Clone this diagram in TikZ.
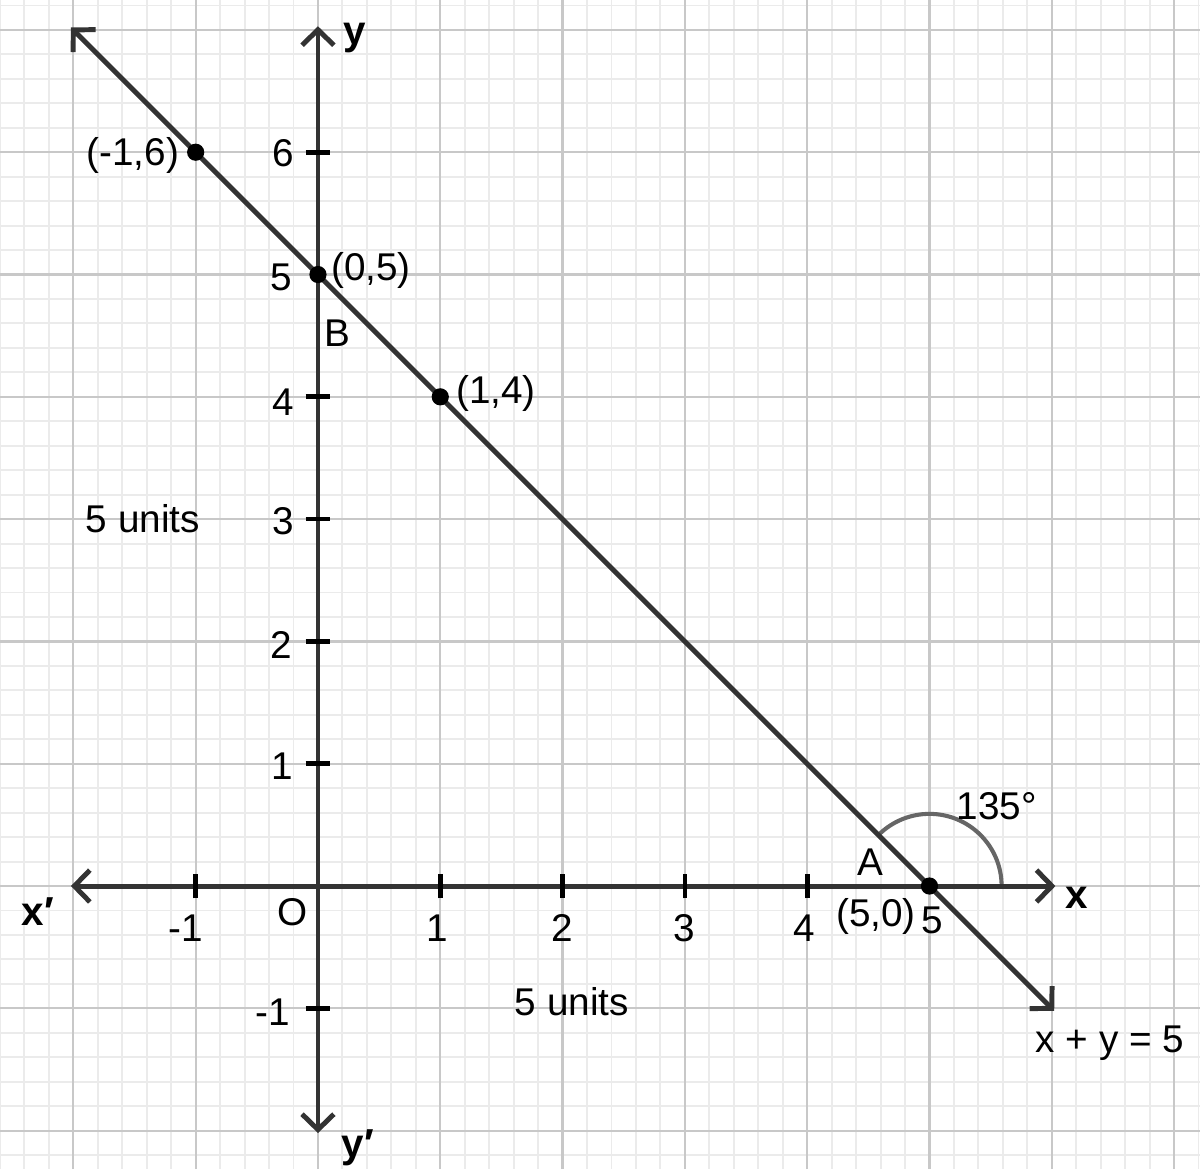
\documentclass[tikz,border=0pt]{standalone}
\usepackage{fontspec}
\setmainfont{Liberation Sans}
\usetikzlibrary{arrows.meta}
\definecolor{minorgrid}{HTML}{EBEBEB}
\definecolor{majorgrid}{HTML}{C8C8C8}
\definecolor{axiscol}{HTML}{333333}
\definecolor{arccol}{HTML}{666666}
\tikzset{
  chev/.tip={Straight Barb[length=3.6pt,width=7.4pt,line width=1.15pt]},
  axisline/.style={draw=axiscol,line width=1.15pt,chev-chev},
  tickmark/.style={draw=black,line width=1.1pt},
  lbl/.style={font=\fontsize{9}{10.5}\selectfont,inner sep=0pt,text=black},
  blbl/.style={font=\fontsize{9.4}{11}\selectfont\bfseries,inner sep=0pt,text=black},
  dot/.style={circle,fill=black,inner sep=0pt,minimum size=4pt},
}
\begin{document}
\begin{tikzpicture}[x=1cm,y=1cm]
\useasboundingbox (-2.600,-2.314) rectangle (7.212,7.245);
% grid
\draw[minorgrid,line width=0.45pt,step=0.2] (-2.600,-2.314) grid (7.212,7.245);
\draw[majorgrid,line width=0.5pt,step=1] (-2.600,-2.314) grid (7.212,7.245);
% coordinates
\coordinate (xl) at (-2.02,0);
\coordinate (xr) at (6.03,0);
\coordinate (yb) at (0,-2.02);
\coordinate (yt) at (0,7.03);
\coordinate (ls) at (-2.02,7.02);
\coordinate (le) at (6.02,-1.02);
% angle arc
\draw[arccol,line width=0.95pt] (5.59,0) arc[start angle=0,end angle=135,radius=0.59];
% axes
\draw[axisline] (xl) -- (xr);
\draw[axisline] (yb) -- (yt);
% ticks
\foreach \t in {-1,1,2,3,4} {\draw[tickmark] (\t,-0.1) -- (\t,0.1);}
\foreach \t in {-1,1,2,3,4,6} {\draw[tickmark] (-0.1,\t) -- (0.1,\t);}
% line x+y=5
\draw[draw=axiscol,line width=1.15pt,chev-chev] (ls) -- (le);
% points
\node[dot] (p1) at (-1,6) {};
\node[dot] (p2) at (0,5) {};
\node[dot] (p3) at (1,4) {};
\node[dot] (p4) at (5,0) {};
% axis labels
\node[blbl] (ly) at (0.303,6.934) {y};
\node[blbl] (lx) at (6.206,-0.098) {x};
\node[blbl] (lxp) at (-2.289,-0.213) {x′};
\node[blbl] (lyp) at (0.327,-2.142) {y′};
\node[lbl] (lo) at (-0.204,-0.213) {O};
% x tick labels
\node[lbl] (tx1) at (-1.08,-0.343) {-1};
\node[lbl] (tx2) at (0.973,-0.343) {1};
\node[lbl] (tx3) at (1.995,-0.343) {2};
\node[lbl] (tx4) at (2.993,-0.343) {3};
\node[lbl] (tx5) at (3.974,-0.343) {4};
\node[lbl] (tx6) at (5.02,-0.278) {5};
% y tick labels
\node[lbl] (ty6) at (-0.286,5.993) {6};
\node[lbl] (ty5) at (-0.300,4.980) {5};
\node[lbl] (ty4) at (-0.286,3.958) {4};
\node[lbl] (ty3) at (-0.286,2.985) {3};
\node[lbl] (ty2) at (-0.300,1.971) {2};
\node[lbl] (ty1) at (-0.290,0.980) {1};
\node[lbl] (tym) at (-0.370,-1.030) {-1};
% point labels
\node[lbl] (q1) at (-1.513,5.977) {(-1,6)};
\node[lbl] (q2) at (0.433,5.030) {(0,5)};
\node[lbl] (qb) at (0.155,4.520) {B};
\node[lbl] (q3) at (1.455,4.030) {(1,4)};
\node[lbl] (qa) at (4.513,0.196) {A};
\node[lbl] (q4) at (4.563,-0.253) {(5,0)};
\node[lbl] (ang) at (5.552,0.654) {135°};
\node[lbl] (u1) at (-1.431,3.000) {5 units};
\node[lbl] (u2) at (2.077,-0.948) {5 units};
\node[lbl] (eq) at (6.476,-1.284) {x + y = 5};
\end{tikzpicture}
\end{document}
